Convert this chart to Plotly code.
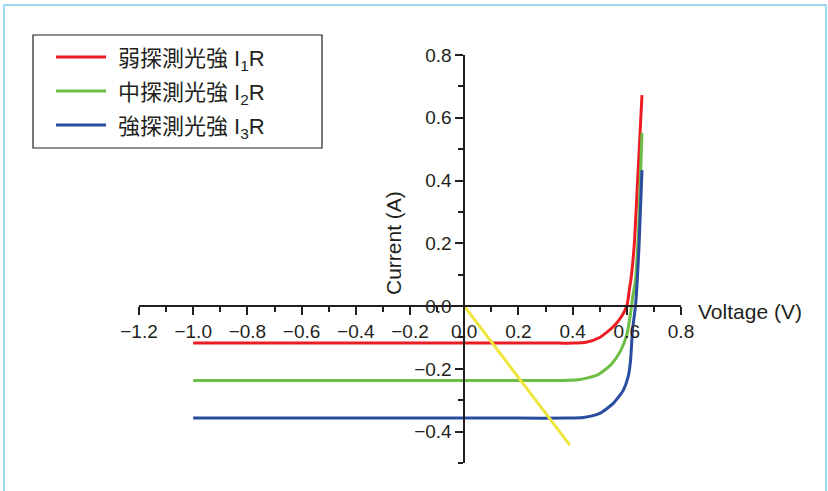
import plotly.graph_objects as go

# Canvas and plot-area geometry (pixels)
W, H = 828, 491
ML, MR, MT, MB = 139, 147, 55, 28

volt_range = [-1.2, 0.8]
curr_range = [-0.5, 0.8]

# Series data: voltage (V) and current (A)
weak_v = [-1.0, -0.5, 0.0, 0.2, 0.35, 0.40, 0.45, 0.50, 0.55, 0.58, 0.60, 0.611, 0.615, 0.627, 0.640, 0.656]
weak_i = [-0.118, -0.118, -0.118, -0.118, -0.118, -0.118, -0.115, -0.100, -0.066, -0.034, 0.0, 0.062, 0.083, 0.190, 0.400, 0.672]

mid_v = [-1.0, -0.5, 0.0, 0.2, 0.35, 0.42, 0.49, 0.54, 0.575, 0.600, 0.614, 0.622, 0.632, 0.646, 0.656]
mid_i = [-0.237, -0.237, -0.237, -0.237, -0.237, -0.235, -0.220, -0.188, -0.146, -0.092, -0.023, 0.030, 0.083, 0.296, 0.552]

strong_v = [-1.0, -0.5, 0.0, 0.2, 0.38, 0.44, 0.50, 0.55, 0.587, 0.605, 0.614, 0.621, 0.632, 0.645, 0.656]
strong_i = [-0.357, -0.357, -0.357, -0.357, -0.357, -0.355, -0.342, -0.310, -0.268, -0.225, -0.172, -0.076, 0.0, 0.189, 0.433]

load_v = [0.0, 0.39]
load_i = [0.0, -0.443]

series_names = ["弱探測光強 I<sub>1</sub>R", "中探測光強 I<sub>2</sub>R", "強探測光強 I<sub>3</sub>R"]
series_colors = ["rgb(236,28,36)", "rgb(108,190,69)", "rgb(42,76,160)"]
load_color = "rgb(238,230,60)"

x_ticks = [-1.2, -1.0, -0.8, -0.6, -0.4, -0.2, 0.0, 0.2, 0.4, 0.6, 0.8]
y_ticks = [-0.4, -0.2, 0.0, 0.2, 0.4, 0.6, 0.8]

INK = "#231f20"
FONT = "Liberation Sans, Arial, Noto Sans CJK TC, sans-serif"

plot_w = W - ML - MR
plot_h = H - MT - MB


def px_x(p):
    return (p - ML) / plot_w


def px_y(p):
    return (H - MB - p) / plot_h


fig = go.Figure()

for v, i, name, col in zip([weak_v, mid_v, strong_v], [weak_i, mid_i, strong_i],
                           series_names, series_colors):
    fig.add_trace(go.Scatter(x=v, y=i, mode="lines", name=name,
                             line=dict(color=col, width=3, shape="spline", smoothing=0.6),
                             showlegend=False))

fig.add_trace(go.Scatter(x=load_v, y=load_i, mode="lines", name="load",
                         line=dict(color=load_color, width=3), showlegend=False))

# Axes crossing at the origin
x_cross = (0 - volt_range[0]) / (volt_range[1] - volt_range[0])
y_cross = (0 - curr_range[0]) / (curr_range[1] - curr_range[0])

axis_common = dict(showgrid=False, zeroline=False, showline=True, linecolor=INK, linewidth=1.5,
                   ticks="outside", ticklen=8, tickwidth=1.5, tickcolor=INK,
                   tickfont=dict(family=FONT, size=19, color=INK),
                   tickformat=".1f", anchor="free",
                   minor=dict(ticks="outside", ticklen=5, tickwidth=1.5, tickcolor=INK,
                              dtick=0.1, tick0=0))

fig.update_layout(
    width=W, height=H,
    margin=dict(l=ML, r=MR, t=MT, b=MB),
    paper_bgcolor="white", plot_bgcolor="white",
    xaxis=dict(range=volt_range, tickvals=x_ticks, position=y_cross, **axis_common),
    yaxis=dict(range=curr_range, tickvals=y_ticks, position=x_cross, **axis_common),
)

annotations = [
    dict(text="Voltage (V)", x=px_x(696), y=px_y(311), xanchor="left", yanchor="middle"),
    dict(text="Current (A)", x=px_x(393), y=px_y(243), xanchor="center", yanchor="middle",
         textangle=-90),
]
for a in annotations:
    a.update(xref="paper", yref="paper", showarrow=False,
             font=dict(family=FONT, size=21, color=INK))

shapes = [
    # outer frame
    dict(type="rect", x0=px_x(4), x1=px_x(826), y0=px_y(5), y1=px_y(500),
         line=dict(color="rgb(120,205,240)", width=1.5)),
    # legend box
    dict(type="rect", x0=px_x(33), x1=px_x(322), y0=px_y(35), y1=px_y(148),
         line=dict(color=INK, width=1.2), fillcolor="white"),
]

row_y = [57, 91, 125]
for name, col, ry in zip(series_names, series_colors, row_y):
    shapes.append(dict(type="line", x0=px_x(56), x1=px_x(106), y0=px_y(ry), y1=px_y(ry),
                       line=dict(color=col, width=3)))
    annotations.append(dict(text=name, x=px_x(116), y=px_y(ry + 3), xref="paper", yref="paper",
                            xanchor="left", yanchor="middle", showarrow=False,
                            font=dict(family=FONT, size=22, color=INK)))

for s in shapes:
    s.update(xref="paper", yref="paper")

fig.update_layout(shapes=shapes, annotations=annotations)

fig.write_html("out.html")
